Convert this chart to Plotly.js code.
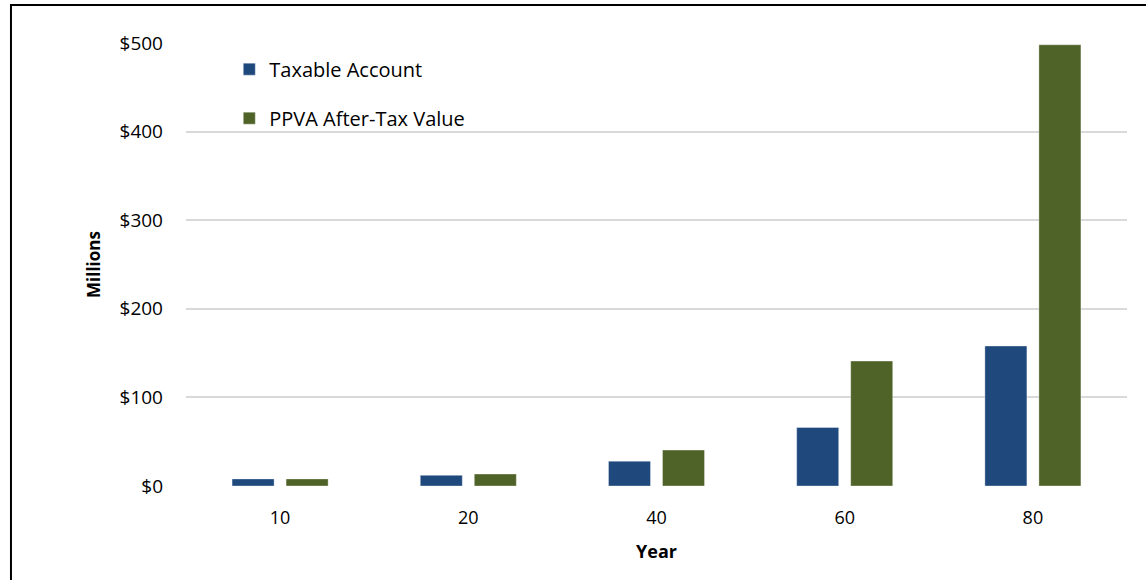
<!DOCTYPE html>
<html>
<head>
<meta charset="utf-8">
<script src="https://cdn.plot.ly/plotly-3.0.1.min.js"></script>
<style>html,body{margin:0;padding:0;background:#fff;}#chart{width:1146px;height:580px;}</style>
</head>
<body>
<div id="chart"></div>
<script>
var years = ["10", "20", "40", "60", "80"];
var taxableAccount = [8, 12, 28, 66, 158];
var ppvaAfterTax = [8, 13.5, 40.5, 141, 498];
var yTickVals = [0, 100, 200, 300, 400, 500];
var yTickText = ["$0", "$100", "$200", "$300", "$400", "$500"];

var FONT = "'Open Sans', 'Noto Sans', sans-serif";

var traces = [
  {
    type: "bar", name: "Taxable Account", x: years, y: taxableAccount,
    marker: {color: "#1F497D", line: {color: "rgba(255,255,255,0.35)", width: 1}},
    legendgroup: "a", hoverinfo: "skip"
  },
  {
    type: "bar", name: "PPVA After-Tax Value", x: years, y: ppvaAfterTax,
    marker: {color: "#4F6228", line: {color: "rgba(255,255,255,0.35)", width: 1}},
    legendgroup: "b", hoverinfo: "skip"
  }
];

var layout = {
  width: 1146, height: 580,
  margin: {l: 186, r: 19, t: 43, b: 94},
  paper_bgcolor: "#ffffff", plot_bgcolor: "#ffffff",
  font: {family: FONT, color: "#000000", size: 18},
  barmode: "group",
  bargap: 0.426,
  bargroupgap: 0.222,
  showlegend: true,
  legend: {
    x: 0.046, xanchor: "left", y: 0.985, yanchor: "top",
    bgcolor: "rgba(0,0,0,0)",
    font: {family: FONT, size: 20, color: "#000000"},
    traceorder: "grouped", tracegroupgap: 20
  },
  xaxis: {
    type: "category",
    showgrid: false, zeroline: false, showline: false,
    ticks: "", ticklabelstandoff: 19,
    tickfont: {family: FONT, size: 18, color: "#000"},
    title: {text: "<b>Year</b>", font: {family: FONT, size: 18, color: "#000"}, standoff: 17},
    fixedrange: true
  },
  yaxis: {
    range: [0, 500],
    tickvals: yTickVals, ticktext: yTickText,
    showgrid: true, gridcolor: "#D9D9D9", gridwidth: 2,
    zeroline: false, showline: false,
    ticks: "", ticklabelstandoff: 22,
    tickfont: {family: FONT, size: 19, color: "#000"},
    title: {text: "<b>Millions</b>", font: {family: FONT, size: 17, color: "#000"}, standoff: 14},
    fixedrange: true
  },
  shapes: [
    {type: "rect", xref: "paper", yref: "paper",
     x0: -0.186, x1: 1.03, y0: -0.24, y1: 1.0858,
     line: {color: "#000000", width: 2}, fillcolor: "rgba(0,0,0,0)", layer: "above"}
  ]
};

Plotly.newPlot("chart", traces, layout, {displayModeBar: false, staticPlot: true});
</script>
</body>
</html>
